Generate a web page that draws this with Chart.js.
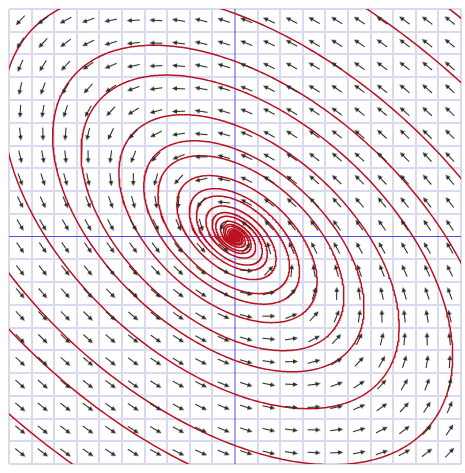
<!DOCTYPE html>
<html>
<head>
<meta charset="utf-8">
<script src="https://cdn.jsdelivr.net/npm/chart.js@4.4.1/dist/chart.umd.min.js"></script>
<style>
  html, body { margin: 0; padding: 0; overflow: hidden; background: #fff; }
  #wrap { width: 470px; height: 473px; }
</style>
</head>
<body>
<div id="wrap"><canvas id="phase" width="470" height="473"></canvas></div>
<script>
// grid lines (one per unit) and the cell centres where the field arrows sit
const gridTicks = [-10, -9, -8, -7, -6, -5, -4, -3, -2, -1, 0, 1, 2, 3, 4, 5, 6, 7, 8, 9, 10];
const arrowCols = [-9.5, -8.5, -7.5, -6.5, -5.5, -4.5, -3.5, -2.5, -1.5, -0.5, 0.5, 1.5, 2.5, 3.5, 4.5, 5.5, 6.5, 7.5, 8.5, 9.5];
const arrowRows = [-9.5, -8.5, -7.5, -6.5, -5.5, -4.5, -3.5, -2.5, -1.5, -0.5, 0.5, 1.5, 2.5, 3.5, 4.5, 5.5, 6.5, 7.5, 8.5, 9.5];

// linear system  x' = a x + b y,  y' = c x + d y
const rowX = [-0.545, -1.0];
const rowY = [0.86, 0.367];

// where the three drawn trajectories cross the positive y axis
const startX = [0, 0, 0];
const startY = [9.8, 7.7, 6.5];

function field(x, y) {
    return [rowX[0] * x + rowX[1] * y, rowY[0] * x + rowY[1] * y];
}

function rk4(p, h) {
    const k1 = field(p[0], p[1]);
    const k2 = field(p[0] + h / 2 * k1[0], p[1] + h / 2 * k1[1]);
    const k3 = field(p[0] + h / 2 * k2[0], p[1] + h / 2 * k2[1]);
    const k4 = field(p[0] + h * k3[0], p[1] + h * k3[1]);
    return [p[0] + h / 6 * (k1[0] + 2 * k2[0] + 2 * k3[0] + k4[0]),
            p[1] + h / 6 * (k1[1] + 2 * k2[1] + 2 * k3[1] + k4[1])];
}

function trajectory(x0, y0) {
    const back = [];
    let p = [x0, y0];
    for (let i = 0; i < 6000; i++) {
        p = rk4(p, -0.02);
        if (Math.abs(p[0]) > 35 || Math.abs(p[1]) > 35) break;
        back.push({ x: p[0], y: p[1] });
    }
    const fwd = [{ x: x0, y: y0 }];
    p = [x0, y0];
    for (let i = 0; i < 9000; i++) {
        p = rk4(p, 0.02);
        fwd.push({ x: p[0], y: p[1] });
        if (Math.hypot(p[0], p[1]) < 0.01) break;
    }
    return back.reverse().concat(fwd);
}

// arrow glyph pointing right, rotated per point
function makeArrow() {
    const c = document.createElement('canvas');
    c.width = 17; c.height = 17;
    const g = c.getContext('2d');
    g.strokeStyle = '#2b2b2b';
    g.fillStyle = '#2b2b2b';
    g.lineWidth = 1.1;
    g.beginPath();
    g.moveTo(2, 8.5);
    g.lineTo(12.5, 8.5);
    g.stroke();
    g.beginPath();
    g.moveTo(15, 8.5);
    g.lineTo(10, 6.2);
    g.lineTo(10, 10.8);
    g.closePath();
    g.fill();
    return c;
}

const arrowPts = [];
const arrowRot = [];
arrowRows.forEach(y => {
    arrowCols.forEach(x => {
        const v = field(x, y);
        arrowPts.push({ x: x, y: y });
        arrowRot.push(Math.atan2(-v[1], v[0]) * 180 / Math.PI);
    });
});

const lo = gridTicks[0], hi = gridTicks[gridTicks.length - 1];

const datasets = [{
    data: arrowPts,
    pointStyle: makeArrow(),
    pointRotation: arrowRot,
    pointRadius: 8,
    showLine: false,
    order: 0
}];
startX.forEach((x0, i) => {
    datasets.push({
        data: trajectory(x0, startY[i]),
        showLine: true,
        pointRadius: 0,
        borderColor: '#bb1220',
        borderWidth: 1.5,
        tension: 0,
        order: 1
    });
});
// vertical axis (x = 0) drawn as a plain line through the scales
datasets.push({
    data: [{ x: 0, y: lo }, { x: 0, y: hi }],
    showLine: true,
    pointRadius: 0,
    borderColor: '#4f4ff0',
    borderWidth: 1,
    order: 2
});

const axisColors = gridTicks.map(v => v === 0 ? '#4f4ff0' : '#d9d9f1');
const axisWidths = gridTicks.map(v => v === 0 ? 1 : 2);
const plainWidths = gridTicks.map(v => v === 0 ? 0 : 2);

function axisOpts(widths) {
    return {
        min: lo,
        max: hi,
        afterBuildTicks: s => { s.ticks = gridTicks.map(v => ({ value: v })); },
        ticks: { display: false },
        border: { display: false },
        grid: { drawTicks: false, color: axisColors, lineWidth: widths }
    };
}

new Chart(document.getElementById('phase'), {
    type: 'scatter',
    data: { datasets: datasets },
    options: {
        responsive: false,
        animation: false,
        devicePixelRatio: 1,
        layout: { padding: { left: 5, top: 5, right: 1, bottom: 4 } },
        plugins: { legend: { display: false }, tooltip: { enabled: false } },
        scales: { x: axisOpts(plainWidths), y: axisOpts(axisWidths) }
    }
});
</script>
</body>
</html>
